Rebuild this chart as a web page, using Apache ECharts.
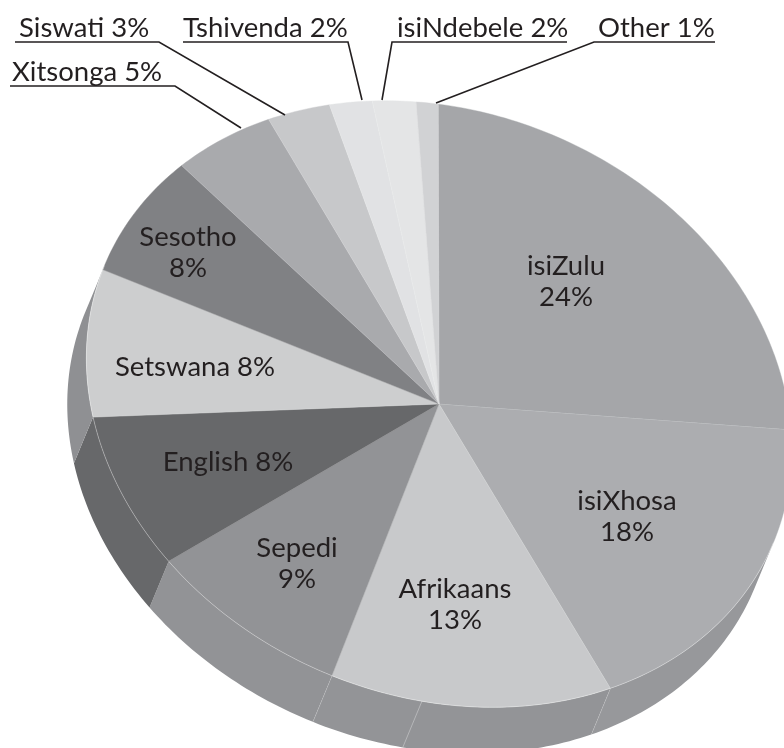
<!DOCTYPE html>
<html>
<head>
<meta charset="utf-8">
<style>
  html, body { margin: 0; padding: 0; background: #fff; }
  #chart { width: 784px; height: 748px; }
</style>
<script src="https://cdn.jsdelivr.net/npm/echarts@6/dist/echarts.min.js"></script>
</head>
<body>
<div id="chart"></div>
<script>
const languages = ['isiZulu', 'isiXhosa', 'Afrikaans', 'Sepedi', 'English', 'Setswana', 'Sesotho', 'Xitsonga', 'Siswati', 'Tshivenda', 'isiNdebele', 'Other']
// what the labels print
const labelPercents = [24, 18, 13, 9, 8, 8, 8, 5, 3, 2, 2, 1]
// slice sizes as drawn, the printed numbers add up to 101
const sliceShares = [24, 18, 13, 9, 8, 8, 7.1, 5, 3, 2, 2, 1]

const topColors = ['#a5a6a9', '#acadb0', '#c8c9cb', '#929396', '#67686a', '#cdcecf', '#808184', '#a9aaad', '#c7c8ca', '#e1e2e4', '#e4e5e6', '#d1d2d4']
const sideColors = ['#97989b', '#97989b', '#939497', '#929396', '#67686a', '#8f9093', '#808184', '#a9aaad', '#c7c8ca', '#e1e2e4', '#e4e5e6', '#d1d2d4']

/** tilted disc, angles in degrees on the untilted circle */
const center = [439, 404]
const radiusA = 362
const radiusB = 292
const tilt = (22.5 * Math.PI) / 180
const depth = 50
const startAngle = -108.6
// the artwork has one extra seam on the side of the Afrikaans slice
const extraSeamAngle = 74.3

const inkColor = '#231f20'
const labelFont = '27.5px Lato, "Open Sans", sans-serif'

/** labels placed inside their slice */
const innerLabels = {
  isiZulu: { x: 566, y: 282, twoLines: true },
  isiXhosa: { x: 627, y: 517, twoLines: true },
  Afrikaans: { x: 455, y: 605, twoLines: true },
  Sepedi: { x: 297, y: 564, twoLines: true },
  English: { x: 228, y: 462 },
  Setswana: { x: 195, y: 367 },
  Sesotho: { x: 188, y: 253, twoLines: true },
}
/** labels outside: text start, underline and leader */
const outerLabels = {
  Xitsonga: { x: 12, y: 72.5, line: [[10, 86], [175, 86], [241, 128]] },
  Siswati: { x: 19, y: 28, line: [[15, 42], [159, 42], [285, 115]] },
  Tshivenda: { x: 183, y: 28, line: [[183, 42], [348, 42], [362, 100]] },
  isiNdebele: { x: 397, y: 28, line: [[567, 42], [392, 42], [382, 100]] },
  Other: { x: 598, y: 28, line: [[715, 42], [594, 42], [436, 103]] },
}

const shareTotal = sliceShares.reduce((sum, v) => sum + v, 0)
const sliceStarts = []
sliceShares.reduce((angle, v, i) => {
  sliceStarts[i] = angle
  return angle + (v / shareTotal) * 360
}, startAngle)

/** point on the rim */
function rimPoint(angle, drop = 0) {
  const t = (angle * Math.PI) / 180
  const u = radiusA * Math.cos(t)
  const v = radiusB * Math.sin(t) + drop
  return [center[0] + u * Math.cos(tilt) - v * Math.sin(tilt), center[1] + u * Math.sin(tilt) + v * Math.cos(tilt)]
}

function arcPoints(from, to, drop = 0) {
  const points = []
  const steps = Math.max(2, Math.ceil(to - from))
  for (let i = 0; i <= steps; i++) {
    points.push(rimPoint(from + ((to - from) * i) / steps, drop))
  }
  return points
}

function hairline(points, opacity) {
  return {
    type: 'polyline',
    shape: { points },
    style: { fill: null, stroke: 'rgba(255,255,255,' + opacity + ')', lineWidth: 0.6 },
  }
}

function renderSlice(params, api) {
  const i = params.dataIndex
  const from = sliceStarts[i]
  const to = from + (api.value(0) / shareTotal) * 360
  const children = []

  // side wall only shows on the front half of the disc
  const wallFrom = Math.max(from, 0)
  const wallTo = Math.min(to, 180)
  if (wallTo > wallFrom) {
    children.push({
      type: 'polygon',
      shape: { points: arcPoints(wallFrom, wallTo).concat(arcPoints(wallFrom, wallTo, depth).reverse()) },
      style: { fill: sideColors[i] },
    })
  }

  children.push({
    type: 'polygon',
    shape: { points: [center].concat(arcPoints(from, to)) },
    style: { fill: topColors[i], stroke: topColors[i], lineWidth: 0.4 },
  })
  children.push(hairline([center, rimPoint(from)], 0.2))

  if (wallTo > wallFrom) {
    children.push(hairline(arcPoints(wallFrom, wallTo), 0.55))
    if (languages[i] === 'isiXhosa' || languages[i] === 'Afrikaans') {
      children.push(hairline([rimPoint(to), rimPoint(to, depth)], 0.55))
    }
    if (extraSeamAngle > from && extraSeamAngle < to) {
      children.push(hairline([rimPoint(extraSeamAngle), rimPoint(extraSeamAngle, depth)], 0.55))
    }
  }
  return { type: 'group', children }
}

function renderLabel(params) {
  const name = languages[params.dataIndex]
  const text = name + ' ' + labelPercents[params.dataIndex] + '%'
  const inner = innerLabels[name]
  if (inner) {
    return {
      type: 'text',
      style: {
        x: inner.x,
        y: inner.y,
        text: inner.twoLines ? text.replace(' ', '\n') : text,
        font: labelFont,
        fill: inkColor,
        align: 'center',
        verticalAlign: 'middle',
        lineHeight: 31,
      },
    }
  }
  const outer = outerLabels[name]
  return {
    type: 'group',
    children: [
      { type: 'polyline', shape: { points: outer.line }, style: { fill: null, stroke: inkColor, lineWidth: 1.6 } },
      { type: 'text', style: { x: outer.x, y: outer.y, text, font: labelFont, fill: inkColor, align: 'left', verticalAlign: 'middle' } },
    ],
  }
}

const chart = echarts.init(document.getElementById('chart'))
chart.setOption({
  animation: false,
  backgroundColor: '#ffffff',
  series: [
    { type: 'custom', coordinateSystem: 'none', silent: true, data: sliceShares.map((v) => [v]), renderItem: renderSlice },
    { type: 'custom', coordinateSystem: 'none', silent: true, data: sliceShares.map((v) => [v]), renderItem: renderLabel },
  ],
})
</script>
</body>
</html>
